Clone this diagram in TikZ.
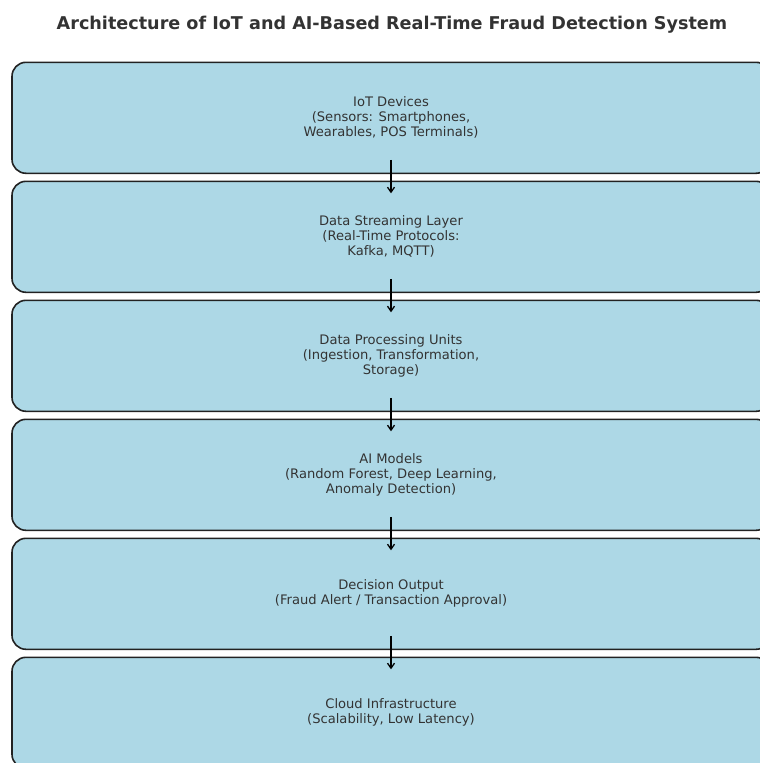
\documentclass[tikz,border=0pt]{standalone}
\usepackage{fontspec}
\setmainfont{DejaVu Sans}
\usetikzlibrary{arrows.meta}
\definecolor{boxfill}{HTML}{ADD8E6}
\definecolor{txt}{HTML}{333333}
\definecolor{edge}{HTML}{222222}
\tikzset{
  layerbox/.style={draw=edge, line width=1.6pt, fill=boxfill, rounded corners=14pt,
    minimum width=758pt, minimum height=111pt, inner sep=0pt, align=center,
    text=txt, font=\fontsize{13.1}{15}\selectfont},
  flow/.style={-{Straight Barb[length=5pt,width=7pt]}, line width=1.3pt, black}
}
\begin{document}
\begin{tikzpicture}[x=1pt,y=1pt]
\useasboundingbox (0,0) rectangle (760,-763);
\fill[white] (0,0) rectangle (760,-763);
\clip (0,0) rectangle (760,-763);
\node[text=txt, font=\bfseries\fontsize{17.6}{21}\selectfont] (title) at (392,-24.5) {Architecture of IoT and AI-Based Real-Time Fraud Detection System};
\node[layerbox] (b1) at (391,-117.8) {IoT Devices\\(Sensors: Smartphones,\\Wearables, POS Terminals)};
\node[layerbox] (b2) at (391,-236.8) {Data Streaming Layer\\(Real-Time Protocols:\\Kafka, MQTT)};
\node[layerbox] (b3) at (391,-355.8) {Data Processing Units\\(Ingestion, Transformation,\\Storage)};
\node[layerbox] (b4) at (391,-474.8) {AI Models\\(Random Forest, Deep Learning,\\Anomaly Detection)};
\node[layerbox] (b5) at (391,-593.8) {Decision Output\\(Fraud Alert / Transaction Approval)};
\node[layerbox] (b6) at (391,-712.8) {Cloud Infrastructure\\(Scalability, Low Latency)};
\foreach \a/\b in {b1/b2,b2/b3,b3/b4,b4/b5,b5/b6}{
  \draw[flow] ([yshift=-42pt]\a.center) -- ([yshift=43.5pt]\b.center);
}
\end{tikzpicture}
\end{document}
